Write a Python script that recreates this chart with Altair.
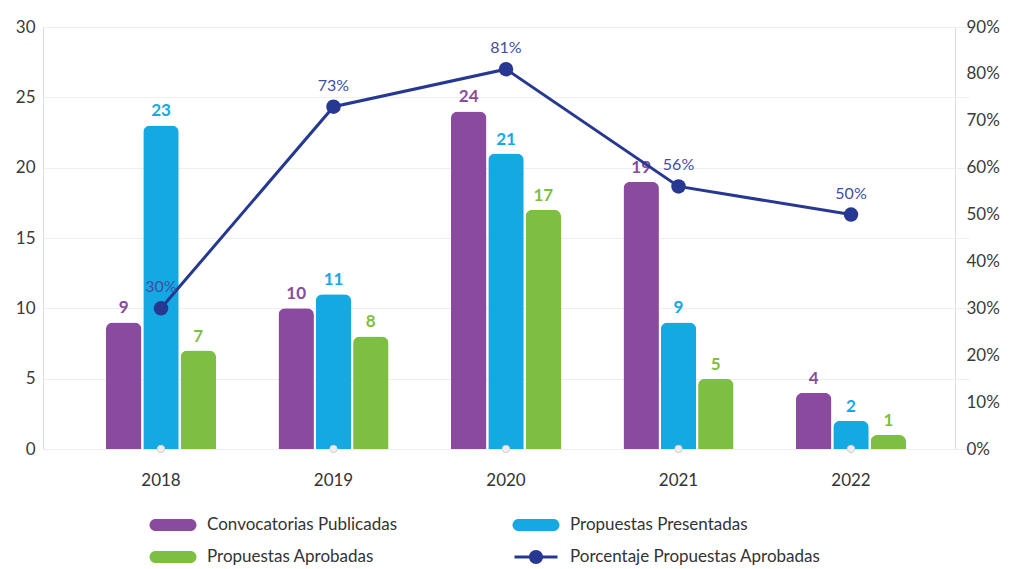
import altair as alt
import pandas as pd

years = ["2018", "2019", "2020", "2021", "2022"]
convocatorias = [9, 10, 24, 19, 4]
presentadas = [23, 11, 21, 9, 2]
aprobadas = [7, 8, 17, 5, 1]
porcentaje = [30, 73, 81, 56, 50]

series = ["Convocatorias Publicadas", "Propuestas Aprobadas",
          "Propuestas Presentadas", "Porcentaje Propuestas Aprobadas"]
colors = ["#8a4b9e", "#7cbf42", "#14a9e3", "#263891"]

bar_series = ["Convocatorias Publicadas", "Propuestas Presentadas", "Propuestas Aprobadas"]
rows = []
for s, vals in zip(bar_series, [convocatorias, presentadas, aprobadas]):
    for y, v in zip(years, vals):
        rows.append({"year": y, "series": s, "value": v})
bars_df = pd.DataFrame(rows)
line_df = pd.DataFrame({"year": years, "pct": [p / 100 for p in porcentaje],
                        "label": [f"{p}%" for p in porcentaje]})
legend_df = pd.DataFrame({"series": series})
years_df = pd.DataFrame({"year": years})

pill = ("M-1.75,-0.6 H1.75 A0.6,0.6 0 0 1 1.75,0.6 H-1.75 "
        "A0.6,0.6 0 0 1 -1.75,-0.6 Z")
linesym = ("M-2.15,-0.15 H2.15 V0.15 H-2.15 Z "
           "M-0.7,0 A0.7,0.7 0 1 1 0.7,0 A0.7,0.7 0 1 1 -0.7,0 Z")

color_scale = alt.Scale(domain=series, range=colors)
shape_scale = alt.Scale(domain=series, range=[pill, pill, pill, linesym])
leg = alt.Legend(title=None, orient="none", legendX=120, legendY=488,
                 columns=2, symbolSize=400, labelOffset=24, columnPadding=114,
                 rowPadding=14, labelFontSize=17, labelColor="#333333",
                 labelFont="Lato", padding=0, symbolStrokeWidth=0,
                 symbolOpacity=1, labelLimit=400)

xenc = alt.X("year:N", sort=years,
             scale=alt.Scale(paddingInner=0.362, paddingOuter=0.365, range=[0, 926]),
             axis=alt.Axis(title=None, labelAngle=0, domain=False, ticks=False,
                           labelPadding=23, labelFontSize=17, labelColor="#333333"))

yleft = alt.Y("value:Q", scale=alt.Scale(domain=[0, 30]),
              axis=alt.Axis(title=None, values=[i * 2.5 for i in range(13)],
                            labelExpr="datum.value % 5 == 0 ? datum.label : ''",
                            domain=False, ticks=False, labelPadding=8,
                            gridColor="#efefef", labelFontSize=17,
                            labelColor="#3a3a3a"))

bars = alt.Chart(bars_df).mark_bar(cornerRadiusTopLeft=7, cornerRadiusTopRight=7).encode(
    x=xenc,
    xOffset=alt.XOffset("series:N", sort=bar_series, scale=alt.Scale(paddingInner=0.05)),
    y=yleft,
    color=alt.Color("series:N", scale=color_scale, legend=leg),
)

bar_text = alt.Chart(bars_df).mark_text(baseline="bottom", dy=-5, fontSize=17,
                                        fontWeight="bold", font="Lato").encode(
    x=alt.X("year:N", sort=years),
    xOffset=alt.XOffset("series:N", sort=bar_series),
    y=alt.Y("value:Q"),
    text="value:Q",
    color=alt.Color("series:N", scale=color_scale, legend=leg),
)

dots = alt.Chart(years_df).mark_circle(size=55, color="#eeeeee", stroke="#d2d2d2",
                                      strokeWidth=1, opacity=1).encode(
    x=alt.X("year:N", sort=years),
    y=alt.datum(0),
)

legend_layer = alt.Chart(legend_df).mark_point(filled=True, size=0, opacity=1).encode(
    color=alt.Color("series:N", scale=color_scale, legend=leg),
    shape=alt.Shape("series:N", scale=shape_scale, legend=leg),
)

left = alt.layer(bars, bar_text, dots, legend_layer)

yright = alt.Y("pct:Q", scale=alt.Scale(domain=[0, 0.9]),
               axis=alt.Axis(title=None, orient="right", format=".0%",
                             values=[i / 10 for i in range(10)], domain=False,
                             ticks=False, grid=False, labelPadding=11,
                             labelFontSize=17, labelColor="#3a3a3a"))

line = alt.Chart(line_df).mark_line(color="#263891", strokeWidth=3).encode(
    x=alt.X("year:N", sort=years), y=yright)
pts = alt.Chart(line_df).mark_circle(color="#263891", size=210, opacity=1).encode(
    x=alt.X("year:N", sort=years), y=alt.Y("pct:Q"))
pct_text = alt.Chart(line_df).mark_text(baseline="bottom", dy=-13, fontSize=16,
                                        color="#3f4ea3", font="Lato").encode(
    x=alt.X("year:N", sort=years), y=alt.Y("pct:Q"), text="label:N")

right = alt.layer(line, pts, pct_text)

chart = alt.layer(left, right).resolve_scale(y="independent").properties(
    width=912, height=422,
    autosize=alt.AutoSizeParams(type="none"),
    padding={"left": 35, "top": 19, "right": 47, "bottom": 120},
).configure_view(stroke=None).configure(font="Lato")

chart.save("out.html", embed_options={"renderer": "svg", "actions": False})
